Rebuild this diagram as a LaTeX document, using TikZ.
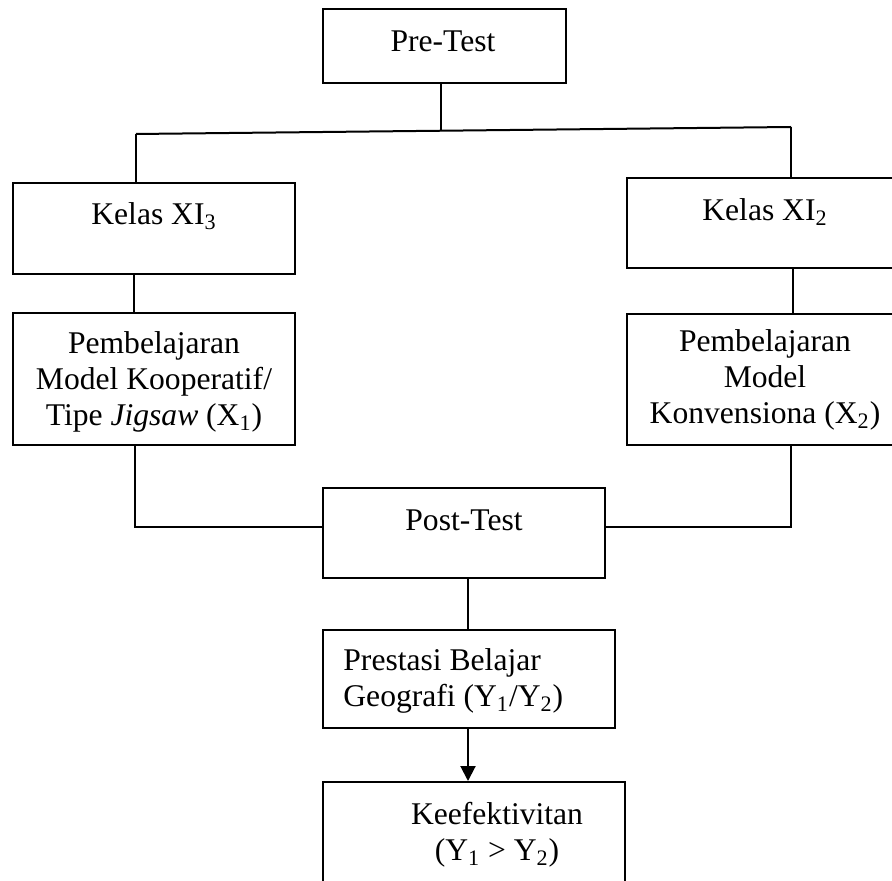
\documentclass[tikz,border=0pt]{standalone}
\usepackage{fontspec}
\setmainfont{Liberation Serif}
\usetikzlibrary{arrows.meta}
\tikzset{
	kotak/.style={draw, line width=1pt, inner sep=0pt},
	teks/.style={inner sep=0pt, align=center, font=\fontsize{15.8}{18}\selectfont},
	garis/.style={line width=1pt}
}

\begin{document}
\begin{tikzpicture}[x=0.5pt, y=-0.5pt]
		%%%%% START %%%%%
		\clip (0, 0) rectangle (892, 881);
		
		% kotak
		\node[kotak, minimum width=121.5pt, minimum height=37pt] (pre) at (444.5, 46) {};
		\node[kotak, minimum width=141pt, minimum height=45.5pt] (kelasA) at (154, 228.5) {};
		\node[kotak, minimum width=138pt, minimum height=45pt] (kelasB) at (765, 223) {};
		\node[kotak, minimum width=141pt, minimum height=66pt] (pembA) at (154, 379) {};
		\node[kotak, minimum width=138pt, minimum height=65.5pt] (pembB) at (765, 379.5) {};
		\node[kotak, minimum width=141pt, minimum height=45pt] (post) at (464, 533) {};
		\node[kotak, minimum width=146pt, minimum height=49pt] (pres) at (469, 679) {};
		\node[kotak, minimum width=151pt, minimum height=60pt] (keef) at (474, 842) {};
		
		% teks
		\node[teks] (preT) at (443, 41) {Pre-Test};
		\node[teks] (kelasAT) at (154, 216) {Kelas XI\textsubscript{3}};
		\node[teks] (kelasBT) at (765, 212) {Kelas XI\textsubscript{2}};
		\node[teks] (pembAT) at (154, 382) {Pembelajaran\\Model Kooperatif/\\Tipe \textit{Jigsaw} (X\textsubscript{1})};
		\node[teks] (pembBT) at (765, 380) {Pembelajaran\\Model\\Konvensiona (X\textsubscript{2})};
		\node[teks] (postT) at (464, 520) {Post-Test};
		\node[teks, align=left, anchor=west] (presT) at (343, 681) {Prestasi Belajar\\Geografi (Y\textsubscript{1}/Y\textsubscript{2})};
		\node[teks] (keefT) at (497, 835) {Keefektivitan\\(Y\textsubscript{1} > Y\textsubscript{2})};
		
		% garis
		\coordinate (jA) at (136, 134);
		\coordinate (jM) at (441, 131);
		\coordinate (jB) at (791, 127);
		\draw[garis] (pre.south -| jM) -- (jM);
		\draw[garis] (jA) -- (jB);
		\draw[garis] (jA) -- (jA |- kelasA.north);
		\draw[garis] (jB) -- (jB |- kelasB.north);
		
		\coordinate (kA) at (134, 300);
		\coordinate (kB) at (793, 300);
		\draw[garis] (kA |- kelasA.south) -- (kA |- pembA.north);
		\draw[garis] (kB |- kelasB.south) -- (kB |- pembB.north);
		
		\coordinate (pA) at (135, 527);
		\coordinate (pB) at (791, 527);
		\draw[garis] (pA |- pembA.south) -- (pA) -- (pA -| post.west);
		\draw[garis] (pB |- pembB.south) -- (pB) -- (pB -| post.east);
		
		\coordinate (tM) at (468, 600);
		\draw[garis] (tM |- post.south) -- (tM |- pres.north);
		\draw[garis, -{Triangle[length=7.5pt, width=7.5pt]}] (tM |- pres.south) -- (tM |- keef.north);
		%%%%% END %%%%%
	\end{tikzpicture}
\end{document}
